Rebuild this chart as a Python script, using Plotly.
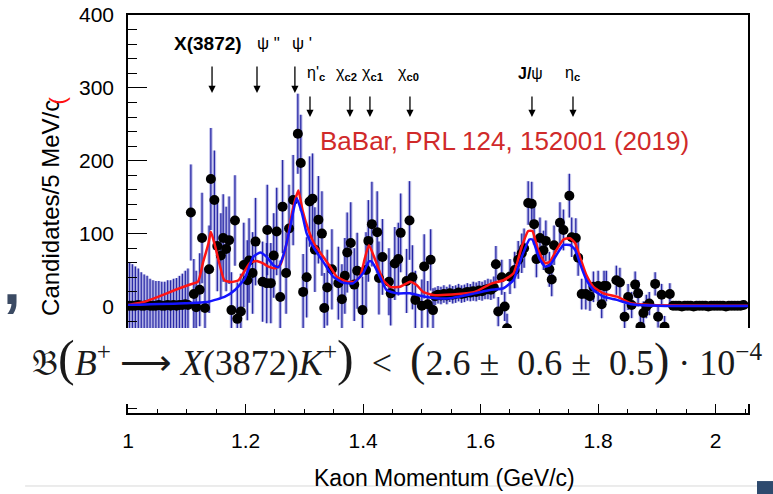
import plotly.graph_objects as go

# ---------------- data ----------------
# low-momentum flat region (5 MeV bins)
mom_low = [1.0025, 1.0075, 1.0125, 1.0175, 1.0225, 1.0275, 1.0325, 1.0375, 1.0425, 1.0475,
           1.0525, 1.0575, 1.0625, 1.0675, 1.0725, 1.0775, 1.0825, 1.0875, 1.0925, 1.0975]
cnt_low = [1, 1, 1, 2, 1, 1, 2, 1, 1, 1, 2, 1, 1, 2, 1, 2, 1, 2, 2, 3]
err_low = [60, 57, 54, 50, 46, 43, 40, 37, 35, 34, 33, 33, 33, 34, 35, 36, 38, 40, 43, 46]

# scattered region 1.10 - 1.52
mom_mid = [1.102, 1.107, 1.112, 1.116, 1.122, 1.126, 1.131, 1.138, 1.141, 1.147,
           1.152, 1.158, 1.162, 1.167, 1.172, 1.176, 1.182, 1.186, 1.192, 1.197,
           1.203, 1.206, 1.212, 1.217, 1.229, 1.236, 1.237, 1.243, 1.248, 1.253,
           1.259, 1.263, 1.269, 1.274, 1.281, 1.289, 1.294, 1.298, 1.304, 1.309,
           1.314, 1.318, 1.324, 1.330, 1.334, 1.339, 1.347, 1.358, 1.364, 1.369,
           1.373, 1.379, 1.385, 1.390, 1.399, 1.405, 1.409, 1.415, 1.424, 1.427,
           1.433, 1.444, 1.447, 1.454, 1.460, 1.464, 1.474, 1.479, 1.484, 1.489,
           1.500, 1.504, 1.510, 1.515, 1.519]
cnt_mid = [2, 129, 17, -1, 23, 94, -2, 51, 175, 146,
           83, 70, 94, 79, 91, -5, 118, -17, -7, 57,
           36, 63, 46, 89, 34, 32, 105, 32, 70, 103,
           13, 137, 46, 107, 146, 237, 197, 20, 40, 144,
           148, 78, 119, 100, -2, 26, 51, 32, 10, 42,
           74, 87, 30, 49, -5, 50, 90, 113, 102, 39,
           68, 34, 18, 59, 65, 101, 35, 118, 40, 9,
           1, 55, 3, 64, -5]
err_mid = [50, 66, 48, 50, 50, 62, 55, 60, 70, 68,
           62, 58, 60, 58, 60, 52, 62, 50, 52, 58,
           55, 58, 56, 60, 55, 55, 62, 55, 58, 60,
           50, 64, 56, 60, 62, 55, 66, 52, 55, 62,
           62, 58, 60, 58, 48, 52, 55, 50, 48, 52,
           55, 56, 50, 52, 46, 52, 56, 58, 56, 50,
           52, 46, 44, 50, 50, 54, 44, 54, 44, 40,
           36, 44, 32, 42, 30]

# dense region 1.52 - 1.62
mom_dense = [1.5225, 1.5275, 1.5325, 1.5375, 1.5425, 1.5475, 1.5525, 1.5575, 1.5625, 1.5675,
             1.5725, 1.5775, 1.5825, 1.5875, 1.5925, 1.5975, 1.6025, 1.6075, 1.6125, 1.6175, 1.6225]
cnt_dense = [14, 16, 15, 17, 15, 18, 16, 17, 19, 17, 18, 20, 19, 21, 20, 22, 21, 23, 24, 23, 26]
err_dense = [12, 12, 12, 12, 12, 12, 12, 12, 12, 12, 12, 12, 12, 13, 13, 13, 13, 13, 14, 14, 15]

# J/psi and eta_c region
mom_high = [1.626, 1.630, 1.636, 1.641, 1.645, 1.650, 1.658, 1.664, 1.670, 1.674,
            1.681, 1.687, 1.691, 1.695, 1.701, 1.707, 1.711, 1.717, 1.721, 1.725,
            1.735, 1.741, 1.751, 1.755, 1.762, 1.766, 1.772, 1.779, 1.786, 1.792,
            1.800, 1.806, 1.810, 1.814, 1.831, 1.837, 1.845, 1.851, 1.857, 1.863,
            1.868, 1.872, 1.877, 1.882, 1.887, 1.897, 1.902, 1.908, 1.913, 1.922]
cnt_high = [58, -7, 40, 0, -30, 41, 50, 64, 73, 80,
            142, 141, 113, 65, 94, 77, 90, 51, 37, 84,
            115, 105, 152, 95, 94, 67, 17, 17, 14, 27,
            28, 3, 28, 28, 36, 33, -14, 13, 2, 30,
            18, -28, -9, 0, 4, 31, -14, 16, -28, 17]
err_high = [25, 20, 24, 20, 20, 24, 25, 26, 27, 27,
            30, 30, 28, 25, 28, 27, 28, 24, 23, 27,
            28, 28, 30, 27, 27, 25, 21, 21, 20, 21,
            21, 19, 21, 21, 20, 20, 18, 18, 18, 18,
            18, 16, 16, 16, 16, 16, 15, 15, 15, 15]

# high-momentum flat region
mom_flat = [1.9275, 1.9325, 1.9375, 1.9425, 1.9475, 1.9525, 1.9575, 1.9625, 1.9675, 1.9725,
            1.9775, 1.9825, 1.9875, 1.9925, 1.9975, 2.0025, 2.0075, 2.0125, 2.0175, 2.0225,
            2.0275, 2.0325, 2.0375, 2.0425, 2.0475]
cnt_flat = [1, 1, 1, 0, 1, 1, 1, 0, 1, 1, 1, 1, 0, 1, 1, 1, 1, 1, 0, 1, 1, 1, 1, 1, 2]
err_flat = [3, 3, 3, 3, 3, 3, 3, 3, 3, 3, 3, 3, 3, 3, 3, 3, 3, 3, 3, 3, 3, 3, 3, 3, 3]

momentum = mom_low + mom_mid + mom_dense + mom_high + mom_flat
counts = cnt_low + cnt_mid + cnt_dense + cnt_high + cnt_flat
errors = err_low + err_mid + err_dense + err_high + err_flat

# fit curves
red_x = [1.000, 1.029, 1.052, 1.080, 1.103, 1.119, 1.128, 1.137, 1.141, 1.147,
         1.154, 1.164, 1.176, 1.188, 1.196, 1.208, 1.219, 1.230, 1.239, 1.250,
         1.259, 1.270, 1.279, 1.287, 1.290, 1.297, 1.307, 1.318, 1.330, 1.344,
         1.355, 1.372, 1.386, 1.395, 1.403, 1.410, 1.423, 1.434, 1.446, 1.463,
         1.480, 1.491, 1.502, 1.519, 1.562, 1.590, 1.619, 1.639, 1.656, 1.670,
         1.681, 1.688, 1.698, 1.710, 1.718, 1.729, 1.741, 1.752, 1.761, 1.769,
         1.780, 1.792, 1.809, 1.832, 1.857, 1.888, 2.055]
red_y = [2, 6.6, 13.5, 22.6, 29.5, 34, 61.5, 86.7, 102.6, 86.7,
         63.8, 36, 33.6, 36, 45.5, 60, 62.4, 59, 54.6, 52.4,
         57, 86.7, 128, 153, 159, 132, 105, 84.4, 70.7, 54.6,
         41, 34, 34, 41, 66, 84, 59, 36.4, 27, 27,
         34, 29.5, 20, 15.8, 17, 20, 31.8, 36, 45.5, 82,
         103.6, 103.6, 77.5, 59.3, 61.5, 77.5, 92, 93.6, 86.7, 68,
         43, 27, 18, 13.5, 4, 2, 1]
blue_x = [1.000, 1.097, 1.137, 1.165, 1.182, 1.199, 1.213, 1.225, 1.236, 1.247,
          1.256, 1.267, 1.276, 1.287, 1.296, 1.304, 1.315, 1.332, 1.349, 1.366,
          1.383, 1.400, 1.410, 1.415, 1.426, 1.440, 1.457, 1.480, 1.497, 1.525,
          1.548, 1.590, 1.616, 1.639, 1.656, 1.670, 1.683, 1.688, 1.700, 1.710,
          1.718, 1.729, 1.741, 1.752, 1.761, 1.769, 1.780, 1.792, 1.809, 1.832,
          1.857, 1.914, 2.055]
blue_y = [2, 4.4, 6.6, 13.5, 22.6, 38.7, 68, 74, 68, 57,
          53.7, 77.5, 109.5, 148.5, 128, 100.4, 82, 61.5, 41, 32.7,
          31.8, 45.5, 62, 61.5, 45.5, 22.6, 18, 18, 14.8, 11.2,
          11.2, 18, 22.6, 25, 36.4, 68, 92, 92, 66, 54.6,
          57, 70.7, 84.4, 84.4, 77.5, 59.3, 36.4, 22.6, 13.5, 9,
          3, 0.7, 0.7]

# charmonium states marked with arrows
row1_states = ["<b>X(3872)</b>", "ψ \"", "ψ '"]
row1_momenta = [1.143, 1.2195, 1.284]
row2_states = ["η'<sub><b>c</b></sub>", "χ<sub><b>c2</b></sub>", "χ<sub><b>c1</b></sub>",
               "χ<sub><b>c0</b></sub>", "<b>J/</b>ψ", "η<sub><b>c</b></sub>"]
row2_momenta = [1.3097, 1.3777, 1.4117, 1.4798, 1.6874, 1.7572]

x_ticks = [1, 1.2, 1.4, 1.6, 1.8, 2]
x_ticklabels = ["1", "1.2", "1.4", "1.6", "1.8", "2"]
y_ticks = [0, 100, 200, 300, 400]
y_ticklabels = ["0", "100", "200", "300", "400"]

# ---------------- figure ----------------
fig = go.Figure()

# soft halo of error bars
fig.add_trace(go.Scatter(
    x=momentum, y=counts, mode="markers",
    marker=dict(color="rgba(0,0,0,0)", size=1),
    error_y=dict(type="data", array=errors, color="rgba(120,120,210,0.45)",
                 thickness=3.5, width=0),
    hoverinfo="skip", showlegend=False))
# data points
fig.add_trace(go.Scatter(
    x=momentum, y=counts, mode="markers",
    marker=dict(color="black", size=10),
    error_y=dict(type="data", array=errors, color="rgba(25,25,160,0.9)",
                 thickness=1.3, width=0),
    showlegend=False))
fig.add_trace(go.Scatter(x=red_x, y=red_y, mode="lines",
                         line=dict(color="#ff1414", width=2.5, shape="spline", smoothing=0.5),
                         showlegend=False))
fig.add_trace(go.Scatter(x=blue_x, y=blue_y, mode="lines",
                         line=dict(color="#1414ff", width=2.5, shape="spline", smoothing=0.5),
                         showlegend=False))

annotations = []
# arrows + labels, row 1
row1_label_dx = [-4, 11, 7]
row1_sizes = [19, 17, 17]
for name, p, dx, fs in zip(row1_states, row1_momenta, row1_label_dx, row1_sizes):
    annotations.append(dict(x=p, y=293, xref="x", yref="y", text="", showarrow=True,
                            ax=0, ay=-28, arrowhead=2, arrowsize=1.1, arrowwidth=1.3,
                            arrowcolor="black", standoff=0))
    annotations.append(dict(x=p, y=361, xref="x", yref="y", text=name, showarrow=False,
                            xshift=dx, xanchor="center", yanchor="middle",
                            font=dict(family="Liberation Sans", size=fs, color="black")))
row2_label_dx = [6, -3, 3, -1, -1, 0]
for name, p, dx in zip(row2_states, row2_momenta, row2_label_dx):
    annotations.append(dict(x=p, y=260, xref="x", yref="y", text="", showarrow=True,
                            ax=0, ay=-22, arrowhead=2, arrowsize=1.1, arrowwidth=1.3,
                            arrowcolor="black", standoff=0))
    annotations.append(dict(x=p, y=320, xref="x", yref="y", text=name, showarrow=False,
                            xshift=dx, xanchor="center", yanchor="middle",
                            font=dict(family="Liberation Sans", size=16, color="black")))

annotations.append(dict(x=0.3065, y=0.683, xref="paper", yref="paper", xanchor="left",
                        yanchor="middle", showarrow=False,
                        text="BaBar, PRL 124, 152001 (2019)",
                        font=dict(family="Liberation Sans", size=26, color="#d02a2a")))

annotations.append(dict(x=-0.126, y=0.515, xref="paper", yref="paper", textangle=-90,
                        xanchor="center", yanchor="middle",
                        showarrow=False, text="Candidates/5 MeV/c",
                        font=dict(family="Liberation Sans", size=24, color="black")))
annotations.append(dict(x=-0.113, y=0.785, xref="paper", yref="paper", textangle=-90,
                        xanchor="center", yanchor="middle",
                        showarrow=False, text="(",
                        font=dict(family="Liberation Sans", size=22, color="#ff1010")))
annotations.append(dict(x=-0.187, y=0.33, xref="paper", yref="paper",
                        xanchor="center", yanchor="middle",
                        showarrow=False, text="<b>,</b>",
                        font=dict(family="Liberation Sans", size=64, color="#3b4a63")))

annotations.append(dict(x=0.511, y=-0.163, xref="paper", yref="paper", showarrow=False,
                        xanchor="center", yanchor="middle",
                        text="Kaon Momentum (GeV/c)",
                        font=dict(family="Liberation Sans Narrow, Liberation Sans", size=23,
                                  color="black")))

nb = "\u00a0"
formula = ("𝔅<span style='font-size:50px'>(</span><i>B</i><sup>+</sup>" + nb + "⟶" + nb +
           "<i>X</i>(3872)<i>K</i><sup>+</sup><span style='font-size:50px'>)</span>" +
           nb + nb + "<" + nb + nb + "<span style='font-size:46px'>(</span>2.6" + nb + "±" +
           nb + nb + "0.6" + nb + "±" + nb + nb + "0.5<span style='font-size:46px'>)</span>" +
           nb + "·" + nb + "10<sup>−4</sup>")
annotations.append(dict(x=-0.158, y=0.138, xref="paper", yref="paper", xanchor="left",
                        yanchor="middle", showarrow=False, text=formula,
                        font=dict(family="Liberation Serif", size=36, color="#1a1a1a")))

shapes = [
    dict(type="rect", xref="paper", yref="paper", x0=-0.25, x1=1.1, y0=0.0226, y1=0.2136,
         fillcolor="white", line=dict(width=0), layer="above"),
    dict(type="line", xref="paper", yref="paper", x0=-0.166, x1=1.027, y0=-0.1834, y1=-0.1834,
         line=dict(color="#d9d9d9", width=1)),
    dict(type="rect", xref="paper", yref="paper", x0=1.0145, x1=1.05, y0=-0.171, y1=-0.21,
         fillcolor="#2e4a6e", line=dict(width=0)),
]

fig.update_layout(
    width=773, height=494,
    margin=dict(l=128, r=25, t=15, b=81, autoexpand=False),
    paper_bgcolor="white", plot_bgcolor="white",
    showlegend=False,
    annotations=annotations, shapes=shapes,
    xaxis=dict(range=[1.0, 2.055], tickvals=x_ticks, ticktext=x_ticklabels,
               automargin=False,
               ticks="inside", ticklen=9, tickwidth=1.3, tickcolor="black",
               minor=dict(tick0=1, dtick=0.05, ticks="inside", ticklen=4, tickcolor="black",
                          tickwidth=1),
               showline=True, linecolor="black", linewidth=1.5, mirror=True,
               showgrid=False, zeroline=False, ticklabelstandoff=8,
               tickfont=dict(family="Liberation Sans Narrow, Liberation Sans", size=21,
                             color="black")),
    yaxis=dict(range=[-146.2, 400], tickvals=y_ticks, ticktext=y_ticklabels,
               automargin=False,
               ticks="inside", ticklen=19, tickwidth=1.3, tickcolor="black",
               minor=dict(tick0=0, dtick=20, ticks="inside", ticklen=9, tickcolor="black",
                          tickwidth=1),
               showline=True, linecolor="black", linewidth=1.5, mirror=True,
               showgrid=False, zeroline=False, ticklabelstandoff=8,
               tickfont=dict(family="Liberation Sans", size=21, color="black")),
)

fig.write_html("out.html")
